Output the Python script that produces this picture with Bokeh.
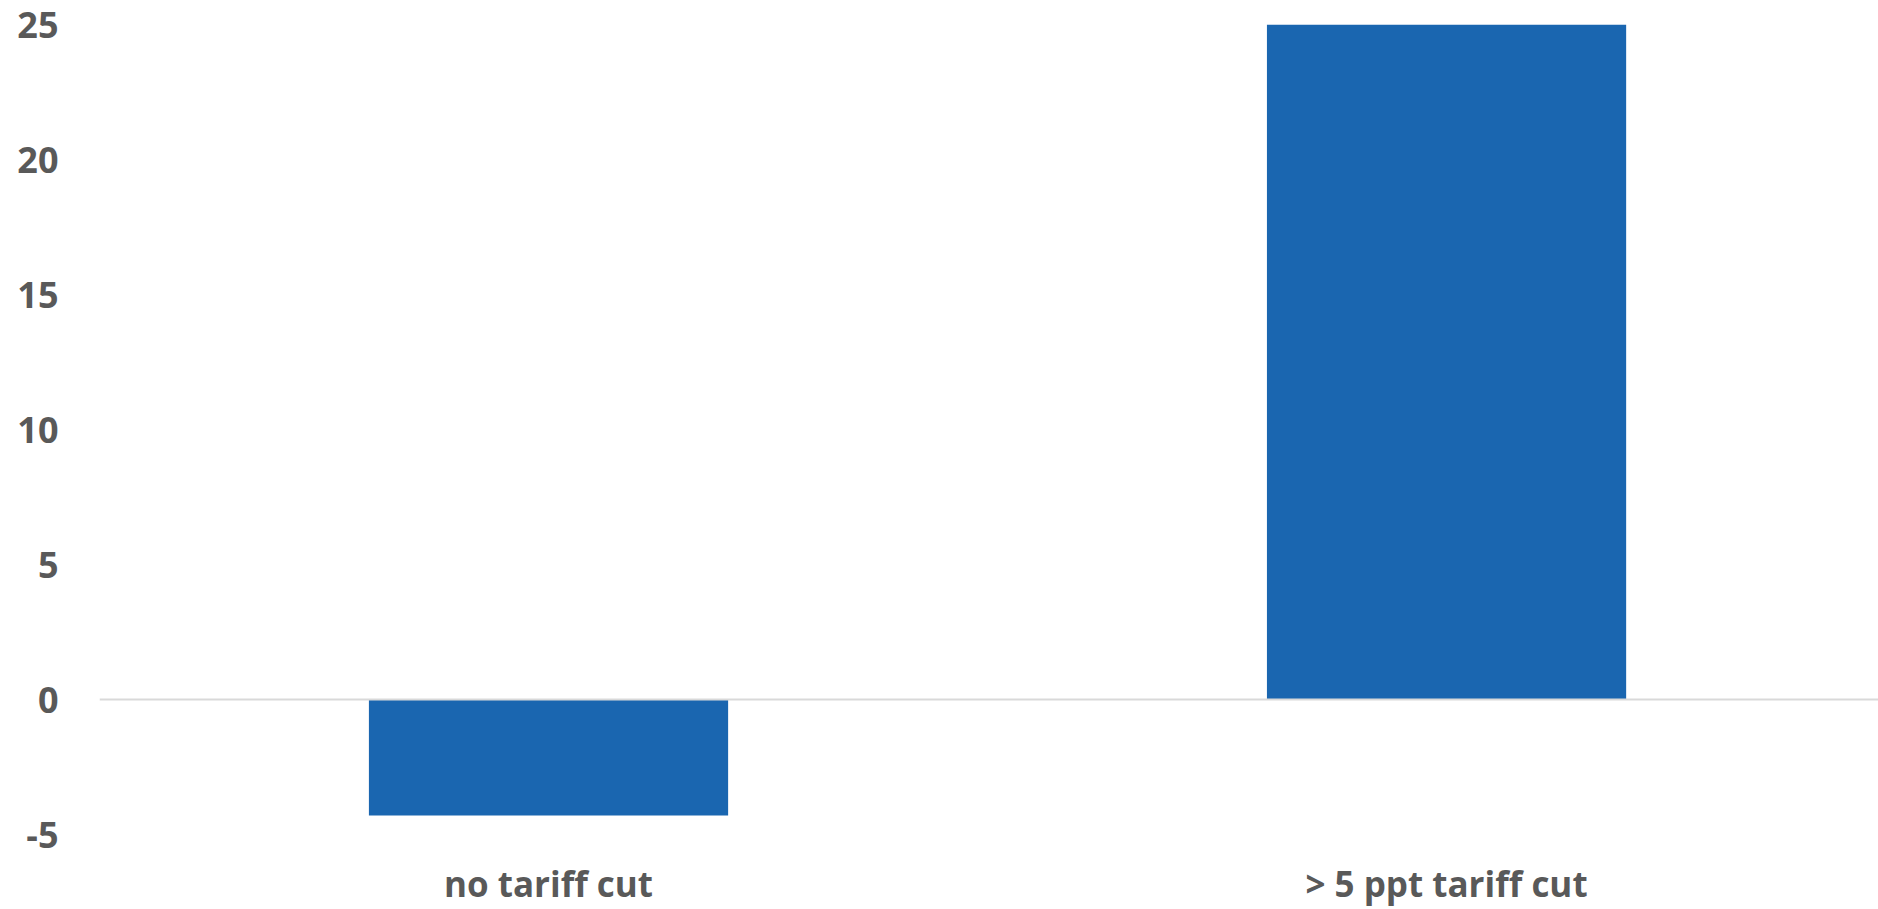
from bokeh.plotting import figure
from bokeh.models import Range1d, FixedTicker, Span, ColumnDataSource
from bokeh.embed import file_html
from bokeh.resources import INLINE

categories = ["no tariff cut", "> 5 ppt tariff cut"]
values = [-4.3, 25.0]
y_ticks = [-5, 0, 5, 10, 15, 20, 25]
y_tick_labels = ["-5", "0", "5", "10", "15", "20", "25"]

xs = [i + 0.5 for i in range(len(categories))]
src = ColumnDataSource(dict(x=xs, top=values, bottom=[0] * len(values)))

p = figure(width=1878, height=909, output_backend="svg", toolbar_location=None,
           x_range=Range1d(0, 1.981), y_range=Range1d(-5, 25))
p.min_border_left = 99
p.min_border_right = 0
p.min_border_top = 24
p.min_border_bottom = 75
p.outline_line_color = None
p.background_fill_color = "white"
p.border_fill_color = "white"
p.xgrid.visible = False
p.ygrid.visible = False

p.vbar(x="x", top="top", bottom="bottom", width=0.4, source=src,
       fill_color="#1a66b0", line_color=None)

p.add_layout(Span(location=0, dimension="width", line_color="#d9d9d9", line_width=2))

font = "Open Sans"
lab_color = "#595959"

p.yaxis.ticker = FixedTicker(ticks=y_ticks)
p.yaxis.major_label_overrides = {t: l for t, l in zip(y_ticks, y_tick_labels)}
p.yaxis.axis_line_color = None
p.yaxis.major_tick_line_color = None
p.yaxis.minor_tick_line_color = None
p.yaxis.major_tick_out = 0
p.yaxis.major_tick_in = 0
p.yaxis.major_label_standoff = 41
p.yaxis.major_label_text_font = font
p.yaxis.major_label_text_font_style = "bold"
p.yaxis.major_label_text_font_size = "36px"
p.yaxis.major_label_text_color = lab_color

p.xaxis.ticker = FixedTicker(ticks=xs)
p.xaxis.major_label_overrides = {x: c for x, c in zip(xs, categories)}
p.xaxis.axis_line_color = None
p.xaxis.major_tick_line_color = None
p.xaxis.minor_tick_line_color = None
p.xaxis.major_tick_out = 0
p.xaxis.major_tick_in = 0
p.xaxis.major_label_standoff = 25
p.xaxis.major_label_text_font = font
p.xaxis.major_label_text_font_style = "bold"
p.xaxis.major_label_text_font_size = "35px"
p.xaxis.major_label_text_color = lab_color

open("out.html", "w").write(file_html(p, INLINE))
